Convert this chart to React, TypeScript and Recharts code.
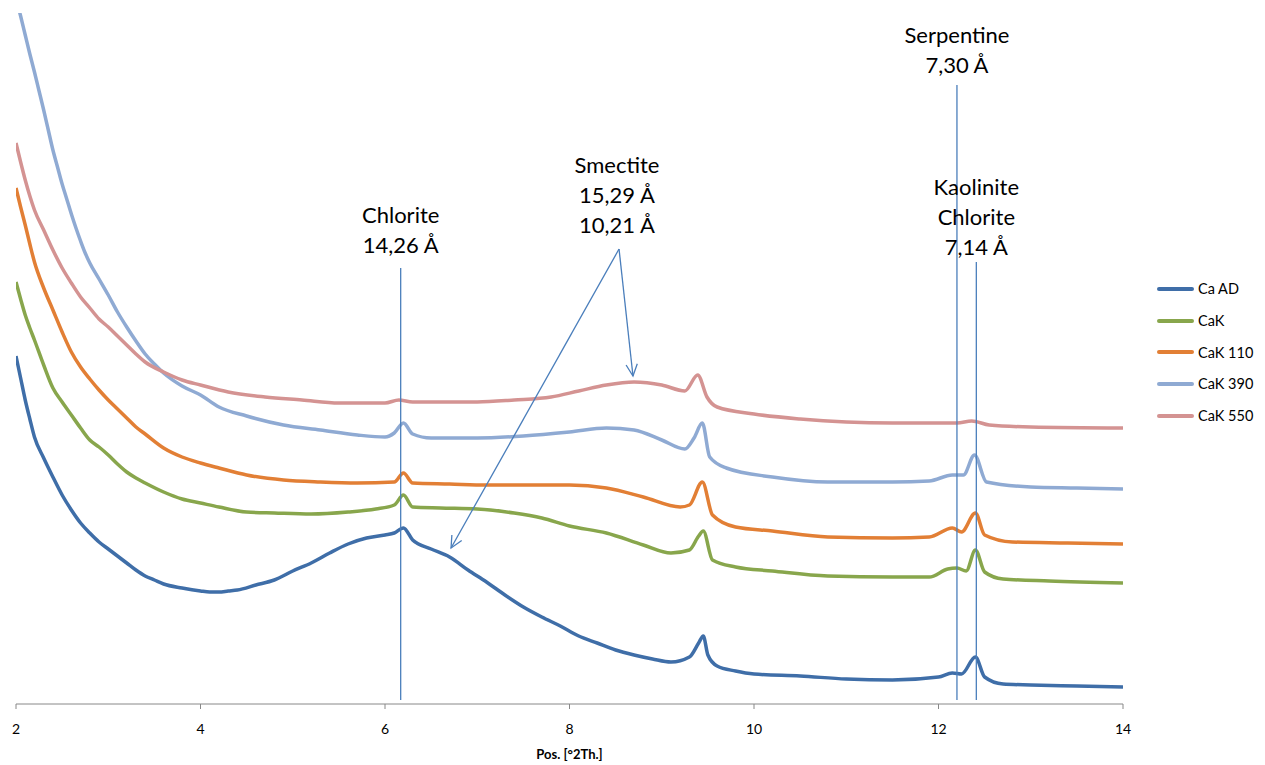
import React from 'react';
import { LineChart, Line, XAxis, YAxis, ReferenceLine, ReferenceDot } from 'recharts';

// 2θ positions and intensities (arbitrary units, stacked patterns)
const caAD: [number, number][] = [
  [2.0, 348], [2.05, 326], [2.1, 304], [2.15, 285], [2.2, 267], [2.3, 246], [2.4, 227], [2.5, 209], [2.6, 194], [2.7, 181],
  [2.8, 171], [2.9, 162], [3.0, 155], [3.1, 148], [3.2, 141], [3.3, 134], [3.4, 128], [3.5, 124], [3.6, 120], [3.8, 116], [4.0, 113],
  [4.1, 112], [4.2, 112], [4.3, 113], [4.4, 114], [4.6, 119], [4.8, 124], [5.0, 133], [5.2, 141], [5.4, 151], [5.6, 160],
  [5.8, 166], [6.0, 169], [6.1, 171], [6.2, 176], [6.3, 164], [6.5, 155], [6.7, 147], [6.9, 134],
  [7.1, 122], [7.3, 109], [7.5, 97], [7.7, 87], [7.9, 78], [8.1, 68], [8.3, 61], [8.5, 54],
  [8.7, 49], [8.9, 45], [9.1, 42], [9.3, 47], [9.4, 61], [9.45, 68], [9.5, 49], [9.6, 38],
  [9.8, 33], [10.0, 30], [10.5, 28], [11.0, 25], [11.5, 24], [12.0, 27], [12.15, 31], [12.25, 30],
  [12.4, 47], [12.5, 27], [12.7, 20], [13.0, 19], [13.5, 18], [14.0, 17],
];
const caK: [number, number][] = [
  [2.0, 422], [2.05, 405], [2.1, 389], [2.15, 376], [2.2, 364], [2.3, 339], [2.4, 316], [2.5, 302], [2.6, 289], [2.7, 276],
  [2.8, 264], [2.9, 257], [3.0, 249], [3.1, 240], [3.2, 232], [3.3, 226], [3.4, 221], [3.6, 212], [3.8, 205], [4.0, 201],
  [4.2, 197], [4.5, 192], [4.8, 191], [5.2, 190], [5.6, 192], [5.9, 195], [6.1, 199], [6.2, 209],
  [6.3, 197], [6.6, 196], [7.0, 195], [7.4, 191], [7.7, 186], [8.0, 178], [8.4, 171], [8.8, 159],
  [9.1, 151], [9.3, 154], [9.4, 168], [9.45, 173], [9.55, 144], [9.8, 137], [10.2, 133], [10.8, 128],
  [11.5, 127], [11.9, 127], [12.1, 135], [12.2, 136], [12.3, 133], [12.4, 154], [12.5, 132],
  [12.7, 125], [13.2, 123], [14.0, 121],
];
const caK110: [number, number][] = [
  [2.0, 516], [2.05, 497], [2.1, 479], [2.15, 460], [2.2, 442], [2.3, 416], [2.4, 394], [2.5, 372], [2.6, 352], [2.7, 337],
  [2.8, 325], [2.9, 314], [3.0, 304], [3.1, 295], [3.2, 286], [3.3, 277], [3.4, 270], [3.6, 256], [3.8, 247], [4.0, 241],
  [4.2, 236], [4.5, 229], [4.9, 224], [5.3, 222], [5.7, 221], [6.1, 222], [6.2, 231], [6.3, 221],
  [6.7, 220], [7.1, 219], [7.5, 219], [8.0, 219], [8.4, 216], [8.8, 207], [9.2, 197], [9.3, 199],
  [9.44, 222], [9.55, 189], [9.8, 177], [10.2, 173], [10.8, 167], [11.5, 166], [11.9, 167],
  [12.15, 176], [12.25, 172], [12.4, 191], [12.5, 169], [12.8, 162], [13.4, 161], [14.0, 160],
];
const caK390: [number, number][] = [
  [2.0, 706], [2.05, 688], [2.1, 669], [2.15, 650], [2.2, 632], [2.25, 613], [2.3, 594], [2.35, 574], [2.4, 554], [2.45, 537], [2.5, 520],
  [2.55, 505], [2.6, 490], [2.65, 476], [2.7, 463], [2.75, 451], [2.8, 441], [2.9, 425], [3.0, 409], [3.1, 392], [3.2, 377], [3.3, 363], [3.4, 350],
  [3.5, 340], [3.6, 331], [3.8, 318], [4.0, 309], [4.2, 297], [4.5, 288], [4.9, 279], [5.3, 274], [5.7, 269], [6.0, 267], [6.1, 271],
  [6.2, 281], [6.3, 270], [6.5, 266], [7.0, 266], [7.5, 268], [8.0, 272], [8.4, 276], [8.7, 274],
  [9.0, 264], [9.25, 255], [9.35, 266], [9.44, 281], [9.52, 247], [9.7, 236], [10.2, 227],
  [10.8, 222], [11.5, 222], [11.9, 223], [12.15, 229], [12.27, 229], [12.39, 249], [12.52, 222],
  [13.0, 217], [13.5, 216], [14.0, 215],
];
const caK550: [number, number][] = [
  [2.0, 561], [2.05, 542], [2.1, 524], [2.15, 508], [2.2, 494], [2.3, 474], [2.4, 454], [2.5, 436], [2.6, 421], [2.7, 407],
  [2.8, 396], [2.9, 385], [3.0, 377], [3.1, 368], [3.2, 359], [3.3, 350], [3.4, 342], [3.6, 332], [3.8, 324], [4.0, 319],
  [4.3, 312], [4.7, 307], [5.1, 304], [5.5, 301], [6.0, 301], [6.15, 304], [6.3, 302], [7.0, 302],
  [7.4, 304], [7.8, 307], [8.1, 313], [8.4, 319], [8.7, 322], [9.0, 319], [9.25, 313], [9.39, 329],
  [9.49, 307], [9.6, 297], [10.0, 290], [10.5, 285], [11.0, 282], [11.5, 281], [12.2, 281],
  [12.36, 283], [12.55, 279], [13.0, 277], [14.0, 276],
];

const seriesNames = ['Ca AD', 'CaK', 'CaK 110', 'CaK 390', 'CaK 550'];
const seriesColors = ['#3F6EA8', '#88A64C', '#E27F35', '#8FAAD3', '#D49392'];
const seriesData = [caAD, caK, caK110, caK390, caK550];

const xTicks = [2, 4, 6, 8, 10, 12, 14];

// Reference peak positions (2θ) and line extents (intensity units)
const chloriteX = 6.17;
const serpentineX = 12.2;
const kaoliniteX = 12.41;
const chloriteTop = 436;
const serpentineTop = 619;
const kaoliniteTop = 442;
const lineBottom = 4;

// Smectite arrows: origin and targets
const smectiteOrigin = { x: 8.537, y: 455 };
const smectiteTargets = [
  { x: 6.716, y: 156 },
  { x: 8.688, y: 328 },
];

const annotations = [
  { x: 6.17, y: 481, lines: ['Chlorite', '14,26 Å'] },
  { x: 8.515, y: 531, lines: ['Smectite', '15,29 Å', '10,21 Å'] },
  { x: 12.2, y: 661, lines: ['Serpentine', '7,30 Å'] },
  { x: 12.41, y: 509, lines: ['Kaolinite', 'Chlorite', '7,14 Å'] },
];

const LINE_COLOR = '#4A7EBB';
const FONT = 'Lato, "Open Sans", sans-serif';

const toPoints = (arr: [number, number][]) => arr.map(([x, y]) => ({ x, y }));

const VLine = (props: any) => (
  <line x1={props.x1} y1={props.y1} x2={props.x2} y2={props.y2} stroke={LINE_COLOR} strokeWidth={1.3} />
);

const Arrow = (props: any) => {
  const { x1, y1, x2, y2 } = props;
  const ang = Math.atan2(y2 - y1, x2 - x1);
  const len = 13;
  const spread = Math.PI / 7;
  const ax = x2 - len * Math.cos(ang - spread);
  const ay = y2 - len * Math.sin(ang - spread);
  const bx = x2 - len * Math.cos(ang + spread);
  const by = y2 - len * Math.sin(ang + spread);
  return (
    <g>
      <line x1={x1} y1={y1} x2={x2} y2={y2} stroke={LINE_COLOR} strokeWidth={1.3} />
      <polyline points={`${ax},${ay} ${x2},${y2} ${bx},${by}`} fill="none" stroke={LINE_COLOR} strokeWidth={1.3} />
    </g>
  );
};

const makeLabel = (lines: string[]) => (props: any) => (
  <text x={props.cx} y={props.cy} textAnchor="middle" fontFamily={FONT} fontSize={22} fill="#000">
    {lines.map((l, i) => (
      <tspan key={i} x={props.cx} dy={i === 0 ? 0 : 30}>
        {l}
      </tspan>
    ))}
  </text>
);

export default function App() {
  return (
    <div style={{ position: 'absolute', left: 0, top: 0, width: 1265, height: 765, background: '#fff' }}>
      <LineChart width={1265} height={765} margin={{ top: 13, right: 142, bottom: 11, left: 16 }}>
        <XAxis
          dataKey="x"
          type="number"
          domain={[2, 14]}
          ticks={xTicks}
          allowDataOverflow
          stroke="#888"
          tickSize={5}
          tickMargin={15}
          height={50}
          tick={{ fill: '#000', fontSize: 14, fontFamily: FONT }}
          label={{
            value: 'Pos. [°2Th.]',
            position: 'insideBottom',
            offset: -5,
            style: { fontFamily: FONT, fontSize: 13, fontWeight: 'bold', fill: '#000' },
          }}
        />
        <YAxis hide type="number" domain={[0, 691]} allowDataOverflow />
        {seriesData.map((d, i) => (
          <Line
            key={seriesNames[i]}
            data={toPoints(d)}
            dataKey="y"
            name={seriesNames[i]}
            type="monotone"
            dot={false}
            activeDot={false}
            stroke={seriesColors[i]}
            strokeWidth={3.5}
            strokeLinejoin="round"
            isAnimationActive={false}
          />
        ))}
        <ReferenceLine segment={[{ x: chloriteX, y: lineBottom }, { x: chloriteX, y: chloriteTop }]} shape={VLine} />
        <ReferenceLine segment={[{ x: serpentineX, y: lineBottom }, { x: serpentineX, y: serpentineTop }]} shape={VLine} />
        <ReferenceLine segment={[{ x: kaoliniteX, y: lineBottom }, { x: kaoliniteX, y: kaoliniteTop }]} shape={VLine} />
        {smectiteTargets.map((t, i) => (
          <ReferenceLine key={i} segment={[smectiteOrigin, t]} shape={Arrow} />
        ))}
        {annotations.map((a, i) => (
          <ReferenceDot key={i} x={a.x} y={a.y} r={0} shape={makeLabel(a.lines)} />
        ))}
      </LineChart>
      <div style={{ position: 'absolute', left: 1157, top: 273, fontFamily: FONT, fontSize: 14.5, color: '#000' }}>
        {seriesNames.map((n, i) => (
          <div key={n} style={{ display: 'flex', alignItems: 'center', height: 31.7 }}>
            <div style={{ width: 37, height: 4, borderRadius: 2, background: seriesColors[i], marginRight: 4 }} />
            <span>{n}</span>
          </div>
        ))}
      </div>
    </div>
  );
}
